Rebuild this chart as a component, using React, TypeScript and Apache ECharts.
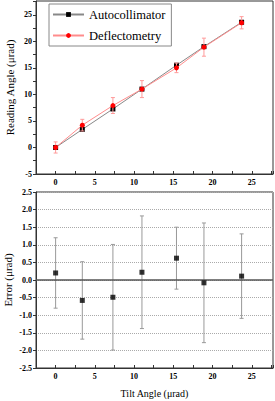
import React, { useEffect, useRef } from 'react';
import * as echarts from 'echarts';

const tilt = [0, 3.4, 7.3, 11.0, 15.4, 18.9, 23.7];
const autoReading = [0, 3.4, 7.25, 11.0, 15.5, 19.0, 23.6];
const deflReading = [0, 4.2, 7.9, 11.0, 15.0, 18.9, 23.5];
const deflErr = [1.05, 1.1, 1.5, 1.6, 0.9, 1.7, 1.15];
const errValues = [0.2, -0.58, -0.49, 0.22, 0.62, -0.08, 0.11];
const errBars = [1.0, 1.1, 1.5, 1.6, 0.88, 1.7, 1.2];

const FONT = "Liberation Serif";

export default function App() {
  const ref = useRef<HTMLDivElement>(null);
  useEffect(() => {
    const chart = echarts.init(ref.current!, null, { renderer: 'svg' });

    const errRender = (color: string, capW: number) => (params: any, api: any) => {
      const x = api.value(0);
      const lo = api.value(1);
      const hi = api.value(2);
      const pLo = api.coord([x, lo]);
      const pHi = api.coord([x, hi]);
      const st = { stroke: color, lineWidth: 1 };
      return {
        type: 'group',
        children: [
          { type: 'line', shape: { x1: pLo[0], y1: pLo[1], x2: pHi[0], y2: pHi[1] }, style: st },
          { type: 'line', shape: { x1: pLo[0] - capW, y1: pLo[1], x2: pLo[0] + capW, y2: pLo[1] }, style: st },
          { type: 'line', shape: { x1: pHi[0] - capW, y1: pHi[1], x2: pHi[0] + capW, y2: pHi[1] }, style: st },
        ],
      };
    };

    const labelStyle = { fontFamily: FONT, fontWeight: 'bold' as const, fontSize: 8, color: '#000' };
    const axisLine = { show: true, onZero: false, lineStyle: { color: '#333', width: 1 } };
    const yTick = { show: true, inside: false, length: 3, lineStyle: { color: '#333' } };
    const xTick = { show: true, inside: true, length: 3, lineStyle: { color: '#333' } };

    const xAxisBase = (gridIndex: number) => ({
      gridIndex,
      type: 'value' as const,
      min: -2.5,
      max: 27.7,
      interval: 2.5,
      axisLine,
      axisTick: xTick,
      splitLine: { show: false },
      axisLabel: {
        ...labelStyle,
        margin: 4,
        formatter: (v: number) => (Math.abs(v % 5) < 1e-6 && v >= 0 && v <= 25 ? String(v) : ''),
      },
    });

    const deflErrData = tilt.map((x, i) => [x, deflReading[i] - deflErr[i], deflReading[i] + deflErr[i]]);
    const errBarData = tilt.map((x, i) => [x, errValues[i] - errBars[i], errValues[i] + errBars[i]]);

    chart.setOption({
      animation: false,
      grid: [
        { left: 36, top: 1, right: 2, height: 173, show: true, borderColor: '#333', borderWidth: 1, containLabel: false, outerBoundsMode: 'none' },
        { left: 36, top: 192, right: 2, height: 176, show: true, borderColor: '#333', borderWidth: 1, containLabel: false, outerBoundsMode: 'none' },
      ],
      legend: {
        show: true,
        orient: 'vertical',
        left: 49,
        top: 4,
        padding: [4, 6, 4, 3],
        itemWidth: 31,
        itemHeight: 6,
        itemGap: 8,
        borderColor: '#888',
        borderWidth: 1,
        textStyle: { fontFamily: FONT, fontSize: 12.5, color: '#000' },
        data: ['Autocollimator', 'Deflectometry'],
      },
      xAxis: [
        xAxisBase(0),
        {
          ...xAxisBase(1),
          name: 'Tilt Angle (μrad)',
          nameLocation: 'middle',
          nameGap: 20,
          nameTextStyle: { fontFamily: FONT, fontSize: 10, color: '#000' },
        },
      ],
      yAxis: [
        {
          gridIndex: 0,
          type: 'value',
          min: -5,
          max: 27.6,
          interval: 2.5,
          axisLine,
          axisTick: yTick,
          splitLine: { show: false },
          axisLabel: {
            ...labelStyle,
            margin: 4,
            formatter: (v: number) => (Math.abs(v % 5) < 1e-6 && v <= 25 ? String(v) : ''),
          },
          name: 'Reading Angle (μrad)',
          nameLocation: 'middle',
          nameMoveOverlap: false,
          nameGap: 21,
          nameTextStyle: { fontFamily: FONT, fontSize: 11, color: '#000' },
        },
        {
          gridIndex: 1,
          type: 'value',
          min: -2.5,
          max: 2.5,
          interval: 0.5,
          axisLine,
          axisTick: yTick,
          splitLine: { show: true, lineStyle: { color: '#aaa', type: 'dotted', width: 1 } },
          axisLabel: {
            ...labelStyle,
            margin: 4,
            formatter: (v: number) => v.toFixed(1),
          },
          name: 'Error (μrad)',
          nameLocation: 'middle',
          nameMoveOverlap: false,
          nameGap: 23,
          nameTextStyle: { fontFamily: FONT, fontSize: 11, color: '#000' },
        },
      ],
      series: [
        {
          name: 'Autocollimator',
          type: 'line',
          xAxisIndex: 0,
          yAxisIndex: 0,
          data: tilt.map((x, i) => [x, autoReading[i]]),
          symbol: 'rect',
          symbolSize: 5,
          itemStyle: { color: '#000' },
          lineStyle: { color: '#888', width: 1 },
          z: 3,
        },
        {
          name: 'Deflectometry errbar',
          type: 'custom',
          xAxisIndex: 0,
          yAxisIndex: 0,
          data: deflErrData,
          renderItem: errRender('#ff9a9a', 2),
          z: 4,
        },
        {
          name: 'Deflectometry',
          type: 'line',
          xAxisIndex: 0,
          yAxisIndex: 0,
          data: tilt.map((x, i) => [x, deflReading[i]]),
          symbol: 'circle',
          symbolSize: 5,
          itemStyle: { color: '#f00' },
          lineStyle: { color: '#ff8c8c', width: 1 },
          z: 5,
        },
        {
          name: 'Error errbar',
          type: 'custom',
          xAxisIndex: 1,
          yAxisIndex: 1,
          data: errBarData,
          renderItem: errRender('#999', 2),
          z: 3,
        },
        {
          name: 'Error',
          type: 'scatter',
          xAxisIndex: 1,
          yAxisIndex: 1,
          data: tilt.map((x, i) => [x, errValues[i]]),
          symbol: 'rect',
          symbolSize: 5,
          itemStyle: { color: '#000' },
          z: 5,
          markLine: {
            silent: true,
            symbol: 'none',
            label: { show: false },
            lineStyle: { color: '#555', type: 'solid', width: 1.5 },
            data: [{ yAxis: 0 }],
          },
        },
      ],
    });
    return () => chart.dispose();
  }, []);
  return (
    <div
      ref={ref}
      style={{ position: 'absolute', left: 0, top: 0, width: 275, height: 401, background: '#fff' }}
    />
  );
}
